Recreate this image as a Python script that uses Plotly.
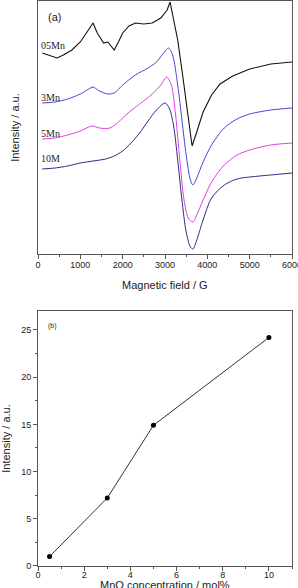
import plotly.graph_objects as go

# ---- Panel (a): EPR spectra (field in G, intensity in a.u.) ----
field_05 = [100, 300, 450, 600, 800, 1000, 1200, 1300, 1400, 1550, 1650, 1700, 1800, 1900, 2000,
            2150, 2300, 2500, 2700, 2900, 3050, 3120, 3200, 3300, 3400, 3500, 3580, 3640, 3750,
            3900, 4100, 4300, 4600, 5000, 5500, 6000]
int_05 = [201, 198, 196, 199, 204, 212, 224, 231, 221, 211, 212, 209, 204, 212, 221,
          228, 231, 230, 231, 236, 244, 252, 236, 214, 184, 154, 129, 108, 122,
          142, 159, 170, 178, 185, 190, 192]

field_3 = [100, 400, 700, 1000, 1200, 1300, 1450, 1650, 1800, 2000, 2300, 2600, 2800, 2950,
           3080, 3180, 3300, 3400, 3500, 3600, 3660, 3750, 3900, 4100, 4400, 4700, 5000, 5500, 6000]
int_3 = [151, 152, 155, 160, 165, 167, 163, 160, 161, 169, 179, 186, 192, 200,
         206, 199, 169, 134, 99, 74, 69, 76, 92, 109, 126, 135, 140, 144, 146]

field_5 = [100, 400, 700, 1000, 1200, 1300, 1450, 1700, 1900, 2100, 2400, 2700, 2900, 3040,
           3150, 3250, 3350, 3450, 3550, 3660, 3750, 3900, 4100, 4400, 4700, 5000, 5500, 6000]
int_5 = [115, 116, 119, 123, 127, 128, 126, 126, 132, 140, 150, 160, 169, 177,
         169, 139, 94, 54, 36, 32, 39, 54, 72, 89, 99, 104, 109, 111]

field_10 = [100, 400, 700, 1000, 1300, 1600, 1800, 2000, 2200, 2400, 2600, 2800, 3000, 3100,
            3200, 3300, 3400, 3500, 3600, 3660, 3750, 3900, 4100, 4400, 4700, 5000, 5500, 6000]
int_10 = [85, 86, 88, 91, 93, 95, 98, 103, 111, 121, 133, 144, 151, 146,
          129, 94, 54, 22, 7, 5, 14, 34, 56, 69, 75, 77, 79, 81]

spectra_labels = ["05Mn", "3Mn", "5Mn", "10M"]

# ---- Panel (b): integrated intensity vs MnO content ----
mno_conc = [0.5, 3, 5, 10]
intensity_b = [1.0, 7.2, 14.9, 24.2]

W, H = 298, 588
fig = go.Figure()

SANS = "Liberation Sans, Arial, sans-serif"
tick_font = dict(family=SANS, size=9, color="#222")
title_font = dict(family=SANS, size=11, color="#222")

fig.add_trace(go.Scatter(x=field_05, y=int_05, mode="lines", line=dict(color="#111111", width=1.1),
                         xaxis="x", yaxis="y", showlegend=False))
fig.add_trace(go.Scatter(x=field_3, y=int_3, mode="lines", line=dict(color="#4646dc", width=1, shape="spline", smoothing=0.8),
                         xaxis="x", yaxis="y", showlegend=False))
fig.add_trace(go.Scatter(x=field_5, y=int_5, mode="lines", line=dict(color="#e23de2", width=1, shape="spline", smoothing=0.8),
                         xaxis="x", yaxis="y", showlegend=False))
fig.add_trace(go.Scatter(x=field_10, y=int_10, mode="lines", line=dict(color="#2c2c84", width=1, shape="spline", smoothing=0.8),
                         xaxis="x", yaxis="y", showlegend=False))

fig.add_trace(go.Scatter(x=mno_conc, y=intensity_b, mode="lines+markers",
                         line=dict(color="#333333", width=1),
                         marker=dict(color="#000000", size=5),
                         xaxis="x2", yaxis="y2", showlegend=False))

axis_common = dict(showline=True, linecolor="#555555", linewidth=1, mirror=True,
                   showgrid=False, zeroline=False, tickfont=tick_font, automargin=False,
                   ticklabeloverflow="allow", tickcolor="#555555")

TOP_DOM = [0.5522, 1]
BOT_DOM = [0, 0.4513]

fig.update_layout(
    width=W, height=H,
    margin=dict(l=38, r=6, t=1, b=22),
    paper_bgcolor="white", plot_bgcolor="white",
    xaxis=dict(domain=[0, 1], anchor="y", range=[0, 6000], tickvals=[0, 1000, 2000, 3000, 4000, 5000, 6000],
               ticks="outside", ticklen=4, ticklabelstandoff=-2,
               minor=dict(ticks="outside", ticklen=2, dtick=500, tick0=0, tickcolor="#555555"),
               **axis_common),
    yaxis=dict(domain=TOP_DOM, anchor="x", range=[0, 253], showticklabels=False, ticks="",
               title=dict(text="Intensity / a.u.", font=title_font),
               **axis_common),
    xaxis2=dict(domain=[0, 1], anchor="y2", range=[0, 11], tickvals=[0, 2, 4, 6, 8, 10],
                ticks="outside", ticklen=4, ticklabelstandoff=-4,
                minor=dict(ticks="outside", ticklen=2, dtick=1, tick0=0, tickcolor="#555555"),
                **axis_common),
    yaxis2=dict(domain=BOT_DOM, anchor="x2", range=[0, 27], tickvals=[0, 5, 10, 15, 20, 25],
                ticks="outside", ticklen=4,
                minor=dict(ticks="outside", ticklen=2, dtick=2.5, tick0=0, tickcolor="#555555"),
                title=dict(text="Intensity / a.u.", font=title_font),
                **axis_common),
)

# x-axis titles placed as annotations for precise positioning
fig.add_annotation(x=0.5, y=TOP_DOM[0], xref="paper", yref="paper", text="Magnetic field / G",
                   showarrow=False, xanchor="center", yanchor="middle", yshift=-31, font=title_font)
fig.add_annotation(x=0.5, y=BOT_DOM[0], xref="paper", yref="paper", text="MnO concentration / mol%",
                   showarrow=False, xanchor="center", yanchor="middle", yshift=-19, font=title_font)

serif = dict(family="Liberation Serif, Times New Roman, serif", size=10, color="#222")
label_pos = [(20, 209), (30, 157), (30, 121), (20, 96)]
for txt, (lx, ly) in zip(spectra_labels, label_pos):
    fig.add_annotation(x=lx, y=ly, xref="x", yref="y", text=txt, showarrow=False,
                       xanchor="left", yanchor="middle", font=serif)

fig.add_annotation(x=0.03, y=0.985, xref="paper", yref="paper", text="(a)", showarrow=False,
                   xanchor="left", yanchor="top", font=title_font)
fig.add_annotation(x=0.03, y=0.435, xref="paper", yref="paper", text="(b)", showarrow=False,
                   xanchor="left", yanchor="top",
                   font=dict(family=SANS, size=7, color="#222"))

fig.write_html("out.html")
